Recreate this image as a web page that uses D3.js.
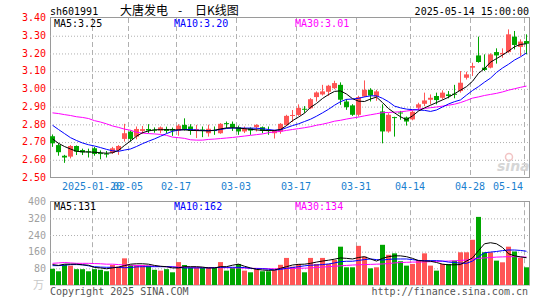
<!DOCTYPE html>
<html><head><meta charset="utf-8">
<script src="https://cdn.jsdelivr.net/npm/d3@7"></script>
<style>
body{margin:0;background:#fff}
svg{display:block}
text{font-family:"DejaVu Sans Mono",monospace;font-size:10px}
</style>
</head><body>
<svg id="c" width="545" height="300"></svg>
<script>
const dates = ["01-09","01-10","01-13","01-14","01-15","01-16","01-17","01-20","01-21","01-22","01-23","01-24","01-27",
"02-05","02-06","02-07","02-10","02-11","02-12","02-13","02-14","02-17","02-18","02-19","02-20","02-21","02-24","02-25","02-26","02-27","02-28",
"03-03","03-04","03-05","03-06","03-07","03-10","03-11","03-12","03-13","03-14","03-17","03-18","03-19","03-20","03-21","03-24","03-25","03-26","03-27","03-28","03-31",
"04-01","04-02","04-03","04-07","04-08","04-09","04-10","04-11","04-14","04-15","04-16","04-17","04-18","04-21","04-22","04-23","04-24","04-25","04-28","04-29","04-30",
"05-06","05-07","05-08","05-09","05-12","05-13","05-14"];

const opens = [2.73,2.68,2.62,2.615,2.675,2.652,2.645,2.662,2.635,2.632,2.637,2.652,2.715,2.756,2.728,2.76,2.771,2.767,2.762,2.771,
2.771,2.762,2.794,2.785,2.762,2.768,2.747,2.765,2.747,2.804,2.80,2.78,2.757,2.775,2.781,2.781,2.766,2.747,2.757,2.794,
2.845,2.85,2.885,2.888,2.951,2.966,2.981,3.001,3.02,2.926,2.904,2.851,2.954,2.992,2.954,2.87,2.757,2.838,2.864,2.836,
2.825,2.891,2.913,2.936,2.957,2.947,2.966,2.97,2.985,3.06,3.117,3.186,3.117,3.117,3.205,3.192,3.205,3.292,3.234,3.267];
const highs = [2.74,2.69,2.625,2.68,2.678,2.66,2.66,2.67,2.65,2.647,2.67,2.68,2.80,2.762,2.785,2.788,2.798,2.78,2.785,2.784,
2.779,2.798,2.831,2.798,2.794,2.785,2.795,2.785,2.804,2.813,2.813,2.79,2.785,2.78,2.798,2.785,2.785,2.766,2.804,2.851,
2.878,2.91,2.90,2.945,2.983,3.02,3.02,3.043,3.034,2.939,2.911,2.958,3.045,3.001,2.992,2.91,2.86,2.84,2.873,2.841,
2.876,2.919,2.976,2.966,2.976,2.989,2.985,3.02,3.098,3.094,3.145,3.292,3.192,3.198,3.226,3.226,3.333,3.324,3.277,3.305];
const lows = [2.67,2.62,2.58,2.605,2.624,2.624,2.61,2.62,2.60,2.61,2.63,2.625,2.70,2.70,2.713,2.743,2.747,2.75,2.747,2.747,
2.732,2.733,2.762,2.738,2.72,2.725,2.728,2.738,2.744,2.775,2.76,2.738,2.748,2.738,2.757,2.747,2.738,2.717,2.744,2.789,
2.81,2.845,2.862,2.883,2.926,2.96,2.958,2.996,2.907,2.879,2.845,2.841,2.951,2.926,2.93,2.69,2.75,2.728,2.823,2.79,
2.82,2.876,2.90,2.91,2.91,2.938,2.944,2.944,2.976,3.05,3.07,3.145,3.098,3.113,3.14,3.173,3.20,3.22,3.183,3.192];
const closes = [2.69,2.64,2.61,2.675,2.643,2.639,2.64,2.63,2.63,2.628,2.662,2.675,2.747,2.715,2.771,2.77,2.762,2.765,2.78,2.76,
2.762,2.79,2.771,2.76,2.771,2.765,2.772,2.762,2.80,2.80,2.78,2.757,2.772,2.762,2.794,2.76,2.759,2.762,2.80,2.845,
2.85,2.89,2.882,2.939,2.977,2.983,3.015,3.03,2.936,2.894,2.851,2.951,2.992,2.96,2.983,2.757,2.851,2.834,2.86,2.813,
2.868,2.91,2.932,2.947,2.934,2.976,2.957,2.964,3.032,3.079,3.126,3.149,3.104,3.192,3.186,3.20,3.305,3.245,3.264,3.252];

const ma5 = [2.715,2.69,2.672,2.658,2.645,2.642,2.641,2.640,2.637,2.634,2.637,2.650,2.678,2.703,2.730,2.750,2.760,2.766,2.767,2.767,
2.766,2.766,2.766,2.763,2.762,2.761,2.760,2.764,2.771,2.777,2.778,2.776,2.773,2.769,2.766,2.763,2.762,2.762,2.768,2.790,
2.818,2.838,2.860,2.893,2.915,2.943,2.965,2.983,2.986,2.968,2.942,2.928,2.926,2.940,2.951,2.920,2.886,2.862,2.840,2.823,
2.845,2.872,2.890,2.905,2.920,2.935,2.950,2.970,2.990,3.010,3.040,3.085,3.112,3.148,3.168,3.188,3.210,3.235,3.248,3.252];
const ma10 = [2.792,2.768,2.745,2.722,2.706,2.692,2.682,2.675,2.666,2.656,2.648,2.645,2.652,2.658,2.672,2.688,2.702,2.715,2.73,2.745,
2.758,2.765,2.768,2.768,2.765,2.763,2.762,2.763,2.768,2.774,2.776,2.776,2.776,2.776,2.775,2.772,2.768,2.764,2.766,2.778,
2.790,2.800,2.813,2.826,2.843,2.862,2.882,2.905,2.925,2.938,2.940,2.944,2.952,2.958,2.958,2.944,2.925,2.900,2.890,2.883,
2.880,2.878,2.876,2.870,2.878,2.895,2.912,2.925,2.935,2.962,2.988,3.010,3.035,3.058,3.090,3.115,3.136,3.160,3.178,3.200];
const ma30 = [2.862,2.858,2.852,2.847,2.840,2.836,2.830,2.818,2.810,2.800,2.788,2.780,2.770,2.764,2.752,2.748,2.745,2.743,2.740,2.735,
2.725,2.722,2.718,2.710,2.708,2.708,2.712,2.714,2.717,2.720,2.723,2.727,2.731,2.735,2.739,2.743,2.750,2.754,2.757,2.763,
2.768,2.773,2.778,2.784,2.792,2.798,2.806,2.815,2.820,2.827,2.833,2.838,2.845,2.851,2.857,2.863,2.864,2.866,2.868,2.872,
2.877,2.883,2.887,2.891,2.895,2.900,2.905,2.911,2.920,2.932,2.945,2.952,2.960,2.966,2.972,2.980,2.990,2.998,3.006,3.013];

const volumes = [78,66,98,93,76,76,66,76,73,66,96,88,128,96,96,96,93,73,69,76,
61,110,96,85,85,82,85,82,110,69,82,101,69,61,76,66,66,72,97,130,
88,101,61,130,101,130,101,120,184,85,85,188,136,80,85,193,145,152,114,93,
101,120,152,93,69,101,101,117,157,157,217,327,157,157,117,109,184,161,130,85];
const vma5 = [98,94,100,100,100,97,95,84,82,78,82,86,93,100,102,102,100,94,90,88,
82,82,88,88,88,86,82,82,88,88,95,100,90,82,75,72,70,72,80,88,
96,99,100,104,110,115,119,124,130,128,125,132,136,125,115,128,136,140,140,136,
128,117,115,114,108,100,97,97,98,115,130,165,198,203,198,180,150,140,135,131];
const vma10 = [93,93,95,98,98,97,92,88,86,85,85,84,83,84,87,88,88,88,88,88,
87,84,82,82,82,82,82,83,85,85,85,85,84,80,78,78,76,72,75,80,
84,88,92,95,96,98,101,106,112,114,114,118,122,125,122,120,123,125,125,125,
122,118,117,117,117,115,110,108,105,104,115,135,155,158,161,165,168,168,166,162];
const vma30 = [104,106,108,106,104,104,104,103,102,100,100,98,96,95,94,93,92,90,89,88,
87,86,86,85,85,84,84,84,83,83,82,82,81,80,80,79,78,78,78,79,
80,80,81,82,84,86,88,90,92,94,96,97,98,99,100,101,103,106,108,109,
110,110,111,112,113,114,115,116,118,120,124,128,130,132,134,135,136,136,135,134];

const priceTicks = [3.40,3.30,3.20,3.10,3.00,2.90,2.80,2.70,2.60,2.50];
const volTicks = [400,320,240,160,80];
const tickDates = ["01-20","02-05","02-17","03-03","03-17","03-31","04-14","04-28","05-14"];
const tickLabels = ["2025-01-20","02-05","02-17","03-03","03-17","03-31","04-14","04-28","05-14"];

const RED = "#ff5555", GREEN = "#00a600", GRID = "#b0b0b0", FRAME = "#9a9a9a";
const L = 50, R = 530, T = 17, B = 177, VT = 201.7, VB = 285;

const svg = d3.select("#c");
const x = d3.scaleBand().domain(dates).range([L, R]).padding(0);
const y = d3.scaleLinear().domain([2.5, 3.4]).range([B, T + 0.5]);
const yv = d3.scaleLinear().domain([0, 400]).range([VB, VT]);
const bw = x.bandwidth() - 1;

// frames
svg.append("rect").attr("x", L + 0.5).attr("y", T + 0.5).attr("width", 479).attr("height", B - T)
  .attr("fill", "none").attr("stroke", FRAME);
svg.append("rect").attr("x", L + 0.5).attr("y", 201.5).attr("width", 479).attr("height", VB - 201.5)
  .attr("fill", "none").attr("stroke", FRAME);

// horizontal grids (main)
const gGrid = svg.append("g").attr("transform", `translate(${L},0)`)
  .call(d3.axisLeft(y).tickValues(priceTicks.slice(1, -1)).tickSize(-(479)).tickFormat(""));
gGrid.select(".domain").remove();
gGrid.selectAll("line").attr("stroke", GRID).attr("stroke-dasharray", "1,2")
  .attr("transform", "translate(0,0.5)");

// horizontal grids (volume)
const gvGrid = svg.append("g").attr("transform", `translate(${L},0)`)
  .call(d3.axisLeft(yv).tickValues(volTicks.slice(1)).tickSize(-(479)).tickFormat(""));
gvGrid.select(".domain").remove();
gvGrid.selectAll("line").attr("stroke", GRID).attr("stroke-dasharray", "1,2");

// vertical dashed grids
tickDates.forEach(d => {
  const xx = Math.round(x(d)) + 0.5;
  svg.append("line").attr("x1", xx).attr("x2", xx).attr("y1", T + 1).attr("y2", B)
    .attr("stroke", GRID).attr("stroke-dasharray", "5,3");
  svg.append("line").attr("x1", xx).attr("x2", xx).attr("y1", VT + 0.5).attr("y2", VB)
    .attr("stroke", GRID).attr("stroke-dasharray", "5,3");
});

// price axis labels
const gy = svg.append("g").attr("transform", `translate(${L},0)`)
  .call(d3.axisLeft(y).tickValues(priceTicks).tickSize(0).tickPadding(4).tickFormat(d3.format(".2f")));
gy.select(".domain").remove();
gy.selectAll("text").attr("fill", "#ff0000").style("font-family", "'DejaVu Sans Mono',monospace").style("font-size", "10px");

// volume axis labels
const gyv = svg.append("g").attr("transform", `translate(${L},0)`)
  .call(d3.axisLeft(yv).tickValues(volTicks).tickSize(0).tickPadding(4));
gyv.select(".domain").remove();
gyv.selectAll("text").attr("fill", "#a0a0a0").style("font-family", "'DejaVu Sans Mono',monospace").style("font-size", "10px");
svg.append("text").attr("x", 44).attr("y", 289).attr("text-anchor", "end").attr("fill", "#c8c8c8")
  .style("font-family", "'Noto Sans CJK SC'").style("font-size", "11px").text("万");

// date labels
tickDates.forEach((d, i) => {
  const last = i === tickDates.length - 1;
  svg.append("text").attr("x", last ? 523 : x(d)).attr("y", 189.5)
    .attr("text-anchor", last ? "end" : "middle").attr("fill", "#1a7fcf").text(tickLabels[i]);
});

// watermark
svg.append("circle").attr("cx", 509).attr("cy", 157).attr("r", 3.5).attr("fill", "none").attr("stroke", "#f2c4c4").attr("stroke-width", 1.5);
svg.append("text").attr("x", 497).attr("y", 171).attr("fill", "#d6d6d6").style("font-family", "'DejaVu Sans'")
  .style("font-size", "14px").style("font-style", "italic").style("font-weight", "bold").text("sina");

// candles
const up = i => closes[i] >= opens[i];
const cg = svg.append("g");
dates.forEach((d, i) => {
  const col = up(i) ? RED : GREEN;
  cg.append("rect").attr("x", x(d) + 2).attr("width", 1).attr("y", y(highs[i]))
    .attr("height", Math.max(1, y(lows[i]) - y(highs[i]))).attr("fill", col);
  const top = y(Math.max(opens[i], closes[i])), bot = y(Math.min(opens[i], closes[i]));
  cg.append("rect").attr("x", x(d)).attr("width", bw).attr("y", top)
    .attr("height", Math.max(1, bot - top)).attr("fill", col);
});

// volume bars
const vg = svg.append("g");
dates.forEach((d, i) => {
  vg.append("rect").attr("x", x(d)).attr("width", bw).attr("y", yv(volumes[i]))
    .attr("height", VB - yv(volumes[i])).attr("fill", up(i) ? RED : GREEN);
});

// MA lines
const cx = i => x(dates[i]) + 2.5;
const line = sc => d3.line().x((d, i) => cx(i)).y(d => sc(d));
[[ma30, "#ff00ff"], [ma10, "#0000ff"], [ma5, "#000000"]].forEach(([a, c]) =>
  svg.append("path").datum(a).attr("d", line(y)).attr("fill", "none").attr("stroke", c).attr("stroke-width", 1));
[[vma30, "#ff00ff"], [vma10, "#0000ff"], [vma5, "#000000"]].forEach(([a, c]) =>
  svg.append("path").datum(a).attr("d", line(yv)).attr("fill", "none").attr("stroke", c).attr("stroke-width", 1));

// header texts
svg.append("text").attr("x", 50).attr("y", 15).attr("fill", "#000").text("sh601991");
const tt = svg.append("text").attr("y", 14.5).attr("fill", "#000").style("font-family", "'Noto Sans CJK SC'").style("font-size", "12px");
tt.append("tspan").attr("x", 120).text("大唐发电");
tt.append("tspan").attr("x", 178).text("-");
tt.append("tspan").attr("x", 195).text("日K线图");
svg.append("text").attr("x", 529).attr("y", 15).attr("text-anchor", "end").attr("fill", "#000").text("2025-05-14 15:00:00");

svg.append("text").attr("x", 54).attr("y", 26.5).attr("fill", "#000").text("MA5:" + d3.format(".2f")(ma5[ma5.length - 1]));
svg.append("text").attr("x", 174).attr("y", 26.5).attr("fill", "#0000ff").text("MA10:" + d3.format(".2f")(ma10[ma10.length - 1]));
svg.append("text").attr("x", 295).attr("y", 26.5).attr("fill", "#ff00ff").text("MA30:" + d3.format(".2f")(ma30[ma30.length - 1]));

svg.append("text").attr("x", 54).attr("y", 209.5).attr("fill", "#000").text("MA5:" + vma5[vma5.length - 1]);
svg.append("text").attr("x", 174).attr("y", 209.5).attr("fill", "#0000ff").text("MA10:" + vma10[vma10.length - 1]);
svg.append("text").attr("x", 295).attr("y", 209.5).attr("fill", "#ff00ff").text("MA30:" + vma30[vma30.length - 1]);

// footer
svg.append("text").attr("x", 50).attr("y", 295).attr("fill", "#555").text("Copyright 2025 SINA.COM");
svg.append("text").attr("x", 528).attr("y", 295).attr("text-anchor", "end").attr("fill", "#555").text("http://finance.sina.com.cn");
</script>
</body></html>
